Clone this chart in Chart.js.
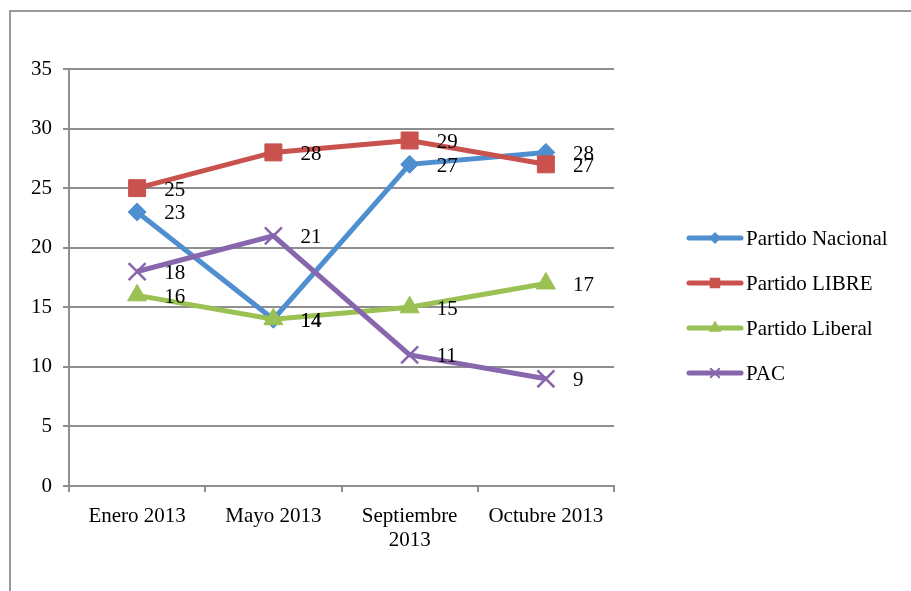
<!DOCTYPE html>
<html>
<head>
<meta charset="utf-8">
<script src="https://cdn.jsdelivr.net/npm/chart.js@4"></script>
<style>
  body { margin: 0; background: #fff; }
</style>
</head>
<body>
<canvas id="grafico" width="911" height="591"></canvas>
<script>
const meses = ["Enero 2013", "Mayo 2013", ["Septiembre", "2013"], "Octubre 2013"]
const partidoNacional = [23, 14, 27, 28]
const partidoLibre = [25, 28, 29, 27]
const partidoLiberal = [16, 14, 15, 17]
const pac = [18, 21, 11, 9]
const nombres = ["Partido Nacional", "Partido LIBRE", "Partido Liberal", "PAC"]
const colores = ["#4F8FCF", "#C9524E", "#9BC053", "#8866AE"]
const marcadores = ["rectRot", "rect", "triangle", "crossRot"]
const radios = [9, 12, 11, 12]

const gris = "#8E8E8E"
const fuente = "Liberation Serif"

const series = [partidoNacional, partidoLibre, partidoLiberal, pac]

// marco exterior del grafico
const marco = {
  id: "marco",
  beforeDraw(chart) {
    const ctx = chart.ctx
    ctx.save()
    ctx.fillStyle = "#fff"
    ctx.fillRect(0, 0, chart.width, chart.height)
    ctx.strokeStyle = "#9a9a9a"
    ctx.lineWidth = 2
    ctx.beginPath()
    ctx.moveTo(10, chart.height)
    ctx.lineTo(10, 11)
    ctx.lineTo(chart.width, 11)
    ctx.stroke()
    ctx.restore()
  }
}

// etiquetas de valor a la derecha de cada punto
const etiquetas = {
  id: "etiquetas",
  afterDatasetsDraw(chart) {
    const ctx = chart.ctx
    ctx.save()
    ctx.font = `21px "${fuente}"`
    ctx.fillStyle = "#000"
    ctx.textAlign = "left"
    ctx.textBaseline = "middle"
    chart.data.datasets.forEach((ds, i) => {
      chart.getDatasetMeta(i).data.forEach((pt, j) => {
        ctx.fillText(ds.data[j], pt.x + 27, pt.y + 2)
      })
    })
    ctx.restore()
  }
}

// leyenda a la derecha (linea con marcador)
const leyenda = {
  id: "leyenda",
  afterDraw(chart) {
    const ctx = chart.ctx
    ctx.save()
    chart.data.datasets.forEach((ds, i) => {
      const y = 238 + i * 45
      ctx.strokeStyle = ds.borderColor
      ctx.lineWidth = 5
      ctx.lineCap = "round"
      ctx.beginPath()
      ctx.moveTo(689, y)
      ctx.lineTo(741, y)
      ctx.stroke()
      ctx.fillStyle = ds.borderColor
      ctx.strokeStyle = ds.borderColor
      ctx.lineWidth = 2
      Chart.helpers.drawPoint(ctx, { pointStyle: ds.pointStyle, radius: ds.pointRadius / 2, borderWidth: 2 }, 715, y)
      ctx.fillStyle = "#000"
      ctx.font = `21px "${fuente}"`
      ctx.textAlign = "left"
      ctx.textBaseline = "middle"
      ctx.fillText(ds.label, 746, y + 1)
    })
    ctx.restore()
  }
}

const ctx = document.getElementById("grafico").getContext("2d")
new Chart(ctx, {
  type: "line",
  data: {
    labels: meses,
    datasets: series.map((valores, i) => ({
      label: nombres[i],
      data: valores,
      borderColor: colores[i],
      backgroundColor: colores[i],
      borderWidth: 5,
      pointStyle: marcadores[i],
      pointRadius: radios[i],
      pointBorderWidth: marcadores[i] === "crossRot" ? 2.5 : 1,
      pointBorderColor: colores[i],
      pointBackgroundColor: colores[i],
      tension: 0,
      order: 4 - i,
    })),
  },
  options: {
    responsive: false,
    animation: false,
    layout: { padding: { top: 69, right: 297, bottom: 0, left: 0 } },
    plugins: {
      legend: { display: false },
      tooltip: { enabled: false },
    },
    scales: {
      x: {
        offset: true,
        grid: { drawOnChartArea: false, drawTicks: true, tickLength: 6, color: gris, lineWidth: 2, offset: true },
        border: { color: gris, width: 2 },
        ticks: { color: "#000", font: { family: fuente, size: 21, lineHeight: 1.15 }, padding: 12, maxRotation: 0, autoSkip: false },
        afterFit: s => { s.height = 105 },
      },
      y: {
        min: 0,
        max: 35,
        ticks: { stepSize: 5, color: "#000", font: { family: fuente, size: 21 }, padding: 11 },
        grid: { color: gris, lineWidth: 2, tickLength: 6 },
        border: { color: gris, width: 2 },
        afterFit: s => { s.width = 69 },
      },
    },
  },
  plugins: [marco, etiquetas, leyenda],
})
</script>
</body>
</html>
